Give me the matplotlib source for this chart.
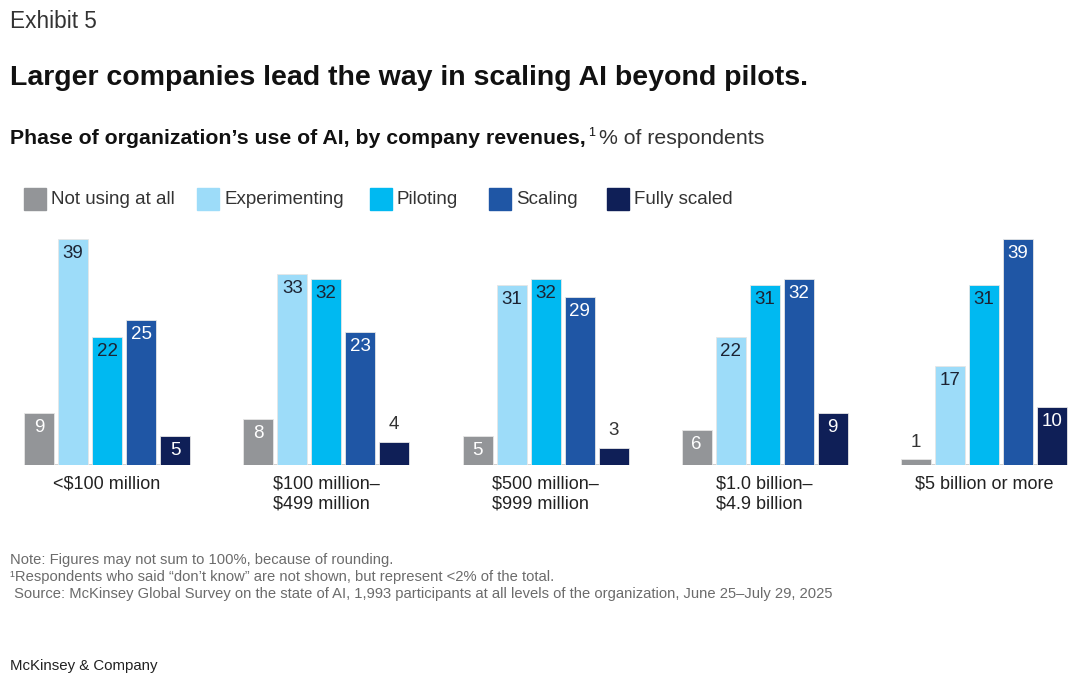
import matplotlib
matplotlib.use('Agg')
import matplotlib.pyplot as plt
import numpy as np

plt.rcParams['font.family'] = ['Liberation Sans', 'DejaVu Sans']

# Data
categories = ['<$100 million', '$100 million–\n$499 million', '$500 million–\n$999 million',
              '$1.0 billion–\n$4.9 billion', '$5 billion or more']
series = ['Not using at all', 'Experimenting', 'Piloting', 'Scaling', 'Fully scaled']
not_using = [9, 8, 5, 6, 1]
experimenting = [39, 33, 31, 22, 17]
piloting = [22, 32, 32, 31, 31]
scaling = [25, 23, 29, 32, 39]
fully_scaled = [5, 4, 3, 9, 10]
values = [not_using, experimenting, piloting, scaling, fully_scaled]

colors = ['#939598', '#9ddcf9', '#00b9f1', '#1f56a5', '#0f1f57']
label_colors = ['white', '#1c2333', '#1c2333', 'white', 'white']

W, H = 1080, 677
fig = plt.figure(figsize=(W / 100, H / 100), dpi=100, facecolor='white')

def fy(y):
    return 1 - y / H

def fx(x):
    return x / W

# plot area: baseline at y=465px, 5.8 px per percentage point
base_px, top_px = 465, 225
ax = fig.add_axes([0, fy(base_px), 1, (base_px - top_px) / H])
ymax = (base_px - top_px) / 5.8
group_step = 219.25
first_center = 107
ax.set_xlim(-first_center / group_step, (W - first_center) / group_step)
ax.set_ylim(0, ymax)
ax.axis('off')

bar_step = 34 / group_step
bar_w = 30 / group_step
x = np.arange(len(categories))
for i, (vals, col) in enumerate(zip(values, colors)):
    pos = x + (i - 2) * bar_step
    ax.bar(pos, vals, width=bar_w, color=col, edgecolor='#e6e6e6', linewidth=0.6, zorder=2)
    for p, v in zip(pos, vals):
        if v <= 4:
            ax.text(p, v + 2.9, str(v), ha='center', va='center', fontsize=13.5, color='#333333')
        else:
            ax.text(p, v - 2.5, str(v), ha='center', va='center', fontsize=13.5,
                    color=label_colors[i])

# light baseline under each group
for g in x:
    ax.plot([g - 2.5 * bar_step + (bar_step - bar_w) / 2, g + 2.5 * bar_step - (bar_step - bar_w) / 2],
            [0, 0], color='#c8c8c8', lw=1.2, zorder=1, solid_capstyle='butt')

# category labels
for g, lab in zip(x, categories):
    ax.text(g, -1.8, lab, ha='center', va='top', fontsize=13, color='#222222',
            multialignment='left', linespacing=1.25)

# headers
fig.text(fx(10), fy(22), 'Exhibit 5', ha='left', va='center', fontsize=16.3, color='#333333')
fig.text(fx(10), fy(78), 'Larger companies lead the way in scaling AI beyond pilots.',
         ha='left', va='center', fontsize=20.5, fontweight='bold', color='#111111')

fig.canvas.draw()
renderer = fig.canvas.get_renderer()
t1 = fig.text(fx(10), fy(139), 'Phase of organization’s use of AI, by company revenues,',
              ha='left', va='center', fontsize=15.3, fontweight='bold', color='#111111')
bb = t1.get_window_extent(renderer)
t2 = fig.text((bb.x1 + 2) / W, fy(133), '1', ha='left', va='center', fontsize=9,
              color='#111111')
bb2 = t2.get_window_extent(renderer)
fig.text((bb2.x1 + 4) / W, fy(139), '% of respondents', ha='left', va='center',
         fontsize=15.3, color='#333333')

# legend
leg_x = [24, 197, 370, 489, 607]
for lx, name, col in zip(leg_x, series, colors):
    fig.patches.append(plt.Rectangle((fx(lx), fy(210)), 22 / W, 22 / H, color=col,
                                     transform=fig.transFigure, figure=fig))
    fig.text(fx(lx + 27), fy(199), name, ha='left', va='center', fontsize=13.5, color='#333333')

# notes
notes = ['Note: Figures may not sum to 100%, because of rounding.',
         '¹Respondents who said “don’t know” are not shown, but represent <2% of the total.',
         ' Source: McKinsey Global Survey on the state of AI, 1,993 participants at all levels of the organization, June 25–July 29, 2025']
for i, n in enumerate(notes):
    fig.text(fx(10), fy(560 + i * 17), n, ha='left', va='center', fontsize=10.6, color='#6b6b6b')

fig.text(fx(10), fy(666), 'McKinsey & Company', ha='left', va='center', fontsize=10.8,
         color='#222222')

fig.savefig('out.png', dpi=100, facecolor='white')
